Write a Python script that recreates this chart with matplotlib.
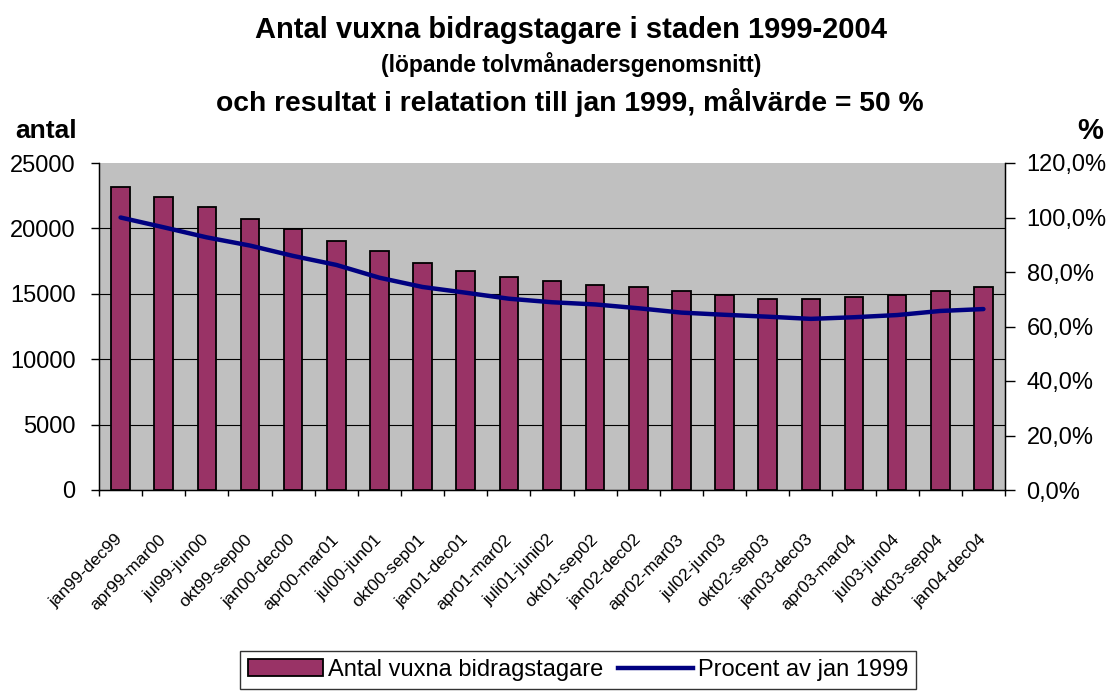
import numpy as np
import matplotlib
matplotlib.use("Agg")
import matplotlib.pyplot as plt
from matplotlib.patches import Patch
from matplotlib.lines import Line2D
from matplotlib.ticker import FuncFormatter

plt.rcParams['font.family'] = ['Liberation Sans', 'DejaVu Sans']

categories = ["jan99-dec99", "apr99-mar00", "jul99-jun00", "okt99-sep00", "jan00-dec00",
              "apr00-mar01", "jul00-jun01", "okt00-sep01", "jan01-dec01", "apr01-mar02",
              "juli01-juni02", "okt01-sep02", "jan02-dec02", "apr02-mar03", "jul02-jun03",
              "okt02-sep03", "jan03-dec03", "apr03-mar04", "jul03-jun04", "okt03-sep04",
              "jan04-dec04"]
antal = [23200, 22400, 21650, 20700, 19950, 19050, 18300, 17350, 16750, 16300,
         15950, 15650, 15500, 15200, 14900, 14600, 14600, 14750, 14900, 15200, 15500]
procent = [100.0, 96.4, 92.7, 89.7, 85.9, 82.6, 77.9, 74.5, 72.4, 70.2,
           68.9, 68.1, 66.7, 65.1, 64.3, 63.6, 62.8, 63.4, 64.2, 65.7, 66.4]
left_ticks = [0, 5000, 10000, 15000, 20000, 25000]
right_ticks = [0, 20, 40, 60, 80, 100, 120]

W, H = 1114, 693
fig = plt.figure(figsize=(W / 100, H / 100), dpi=100)
ax = fig.add_axes([99 / W, 1 - 490 / H, (1005 - 99) / W, (490 - 163) / H])
ax.set_facecolor('#C0C0C0')

n = len(categories)
x = np.arange(n)
ax.bar(x, antal, width=0.43, color='#993366', edgecolor='black', linewidth=1.3, zorder=3)
ax.set_xlim(-0.5, n - 0.5)
ax.set_ylim(left_ticks[0], left_ticks[-1])
ax.set_yticks(left_ticks)
ax.yaxis.grid(True, color='black', linewidth=0.8)
ax.set_axisbelow(True)
gl = ax.yaxis.get_gridlines()
gl[0].set_visible(False)
gl[-1].set_visible(False)

ax.set_xticks(np.arange(n + 1) - 0.5)
ax.set_xticklabels([])
ax.set_xticks(x, minor=True)
ax.set_xticklabels(categories, minor=True, rotation=45, ha='right', va='center',
                   rotation_mode='anchor', fontsize=12.5)
ax.tick_params(axis='x', which='major', direction='out', length=4, width=1)
ax.tick_params(axis='x', which='minor', length=0, pad=34)
ax.tick_params(axis='y', direction='out', length=6, width=1, pad=11, labelsize=17)

ax.spines['top'].set_visible(False)
for s in ['left', 'bottom', 'right']:
    ax.spines[s].set_color('black')
    ax.spines[s].set_linewidth(1)

ax2 = ax.twinx()
ax2.plot(x, procent, color='#000080', linewidth=3.2, zorder=5,
         solid_capstyle='round', solid_joinstyle='round')
ax2.set_ylim(right_ticks[0], right_ticks[-1])
ax2.set_yticks(right_ticks)
ax2.yaxis.set_major_formatter(FuncFormatter(lambda v, p: f"{v:.1f}%".replace('.', ',')))
ax2.tick_params(axis='y', direction='out', length=7, width=1, pad=8.5, labelsize=17)
ax2.spines['top'].set_visible(False)
ax2.spines['right'].set_color('black')

# titles
fig.text(571 / W, 1 - 38 / H, "Antal vuxna bidragstagare i staden 1999-2004",
         ha='center', va='baseline', fontsize=21, fontweight='bold')
fig.text(571 / W, 1 - 72 / H, "(löpande tolvmånadersgenomsnitt)",
         ha='center', va='baseline', fontsize=16.5, fontweight='bold')
fig.text(570 / W, 1 - 111 / H, "och resultat i relatation till jan 1999, målvärde = 50 %",
         ha='center', va='baseline', fontsize=20.3, fontweight='bold')

fig.text(15 / W, 1 - 138 / H, "antal", ha='left', va='baseline',
         fontsize=19, fontweight='bold')
fig.text(1077 / W, 1 - 139 / H, "%", ha='left', va='baseline',
         fontsize=21, fontweight='bold')

handles = [Patch(facecolor='#993366', edgecolor='black', linewidth=1.3),
           Line2D([], [], color='#000080', linewidth=3.2)]
leg = fig.legend(handles, ["Antal vuxna bidragstagare", "Procent av jan 1999"],
                 loc='center', bbox_to_anchor=(578 / W, 1 - 670 / H), ncol=2,
                 frameon=True, fancybox=False, edgecolor='black', fontsize=17,
                 handlelength=3.2, handletextpad=0.2, columnspacing=0.6,
                 borderpad=0.35, borderaxespad=0)
leg.get_frame().set_linewidth(1)

fig.savefig("out.png", dpi=100)
